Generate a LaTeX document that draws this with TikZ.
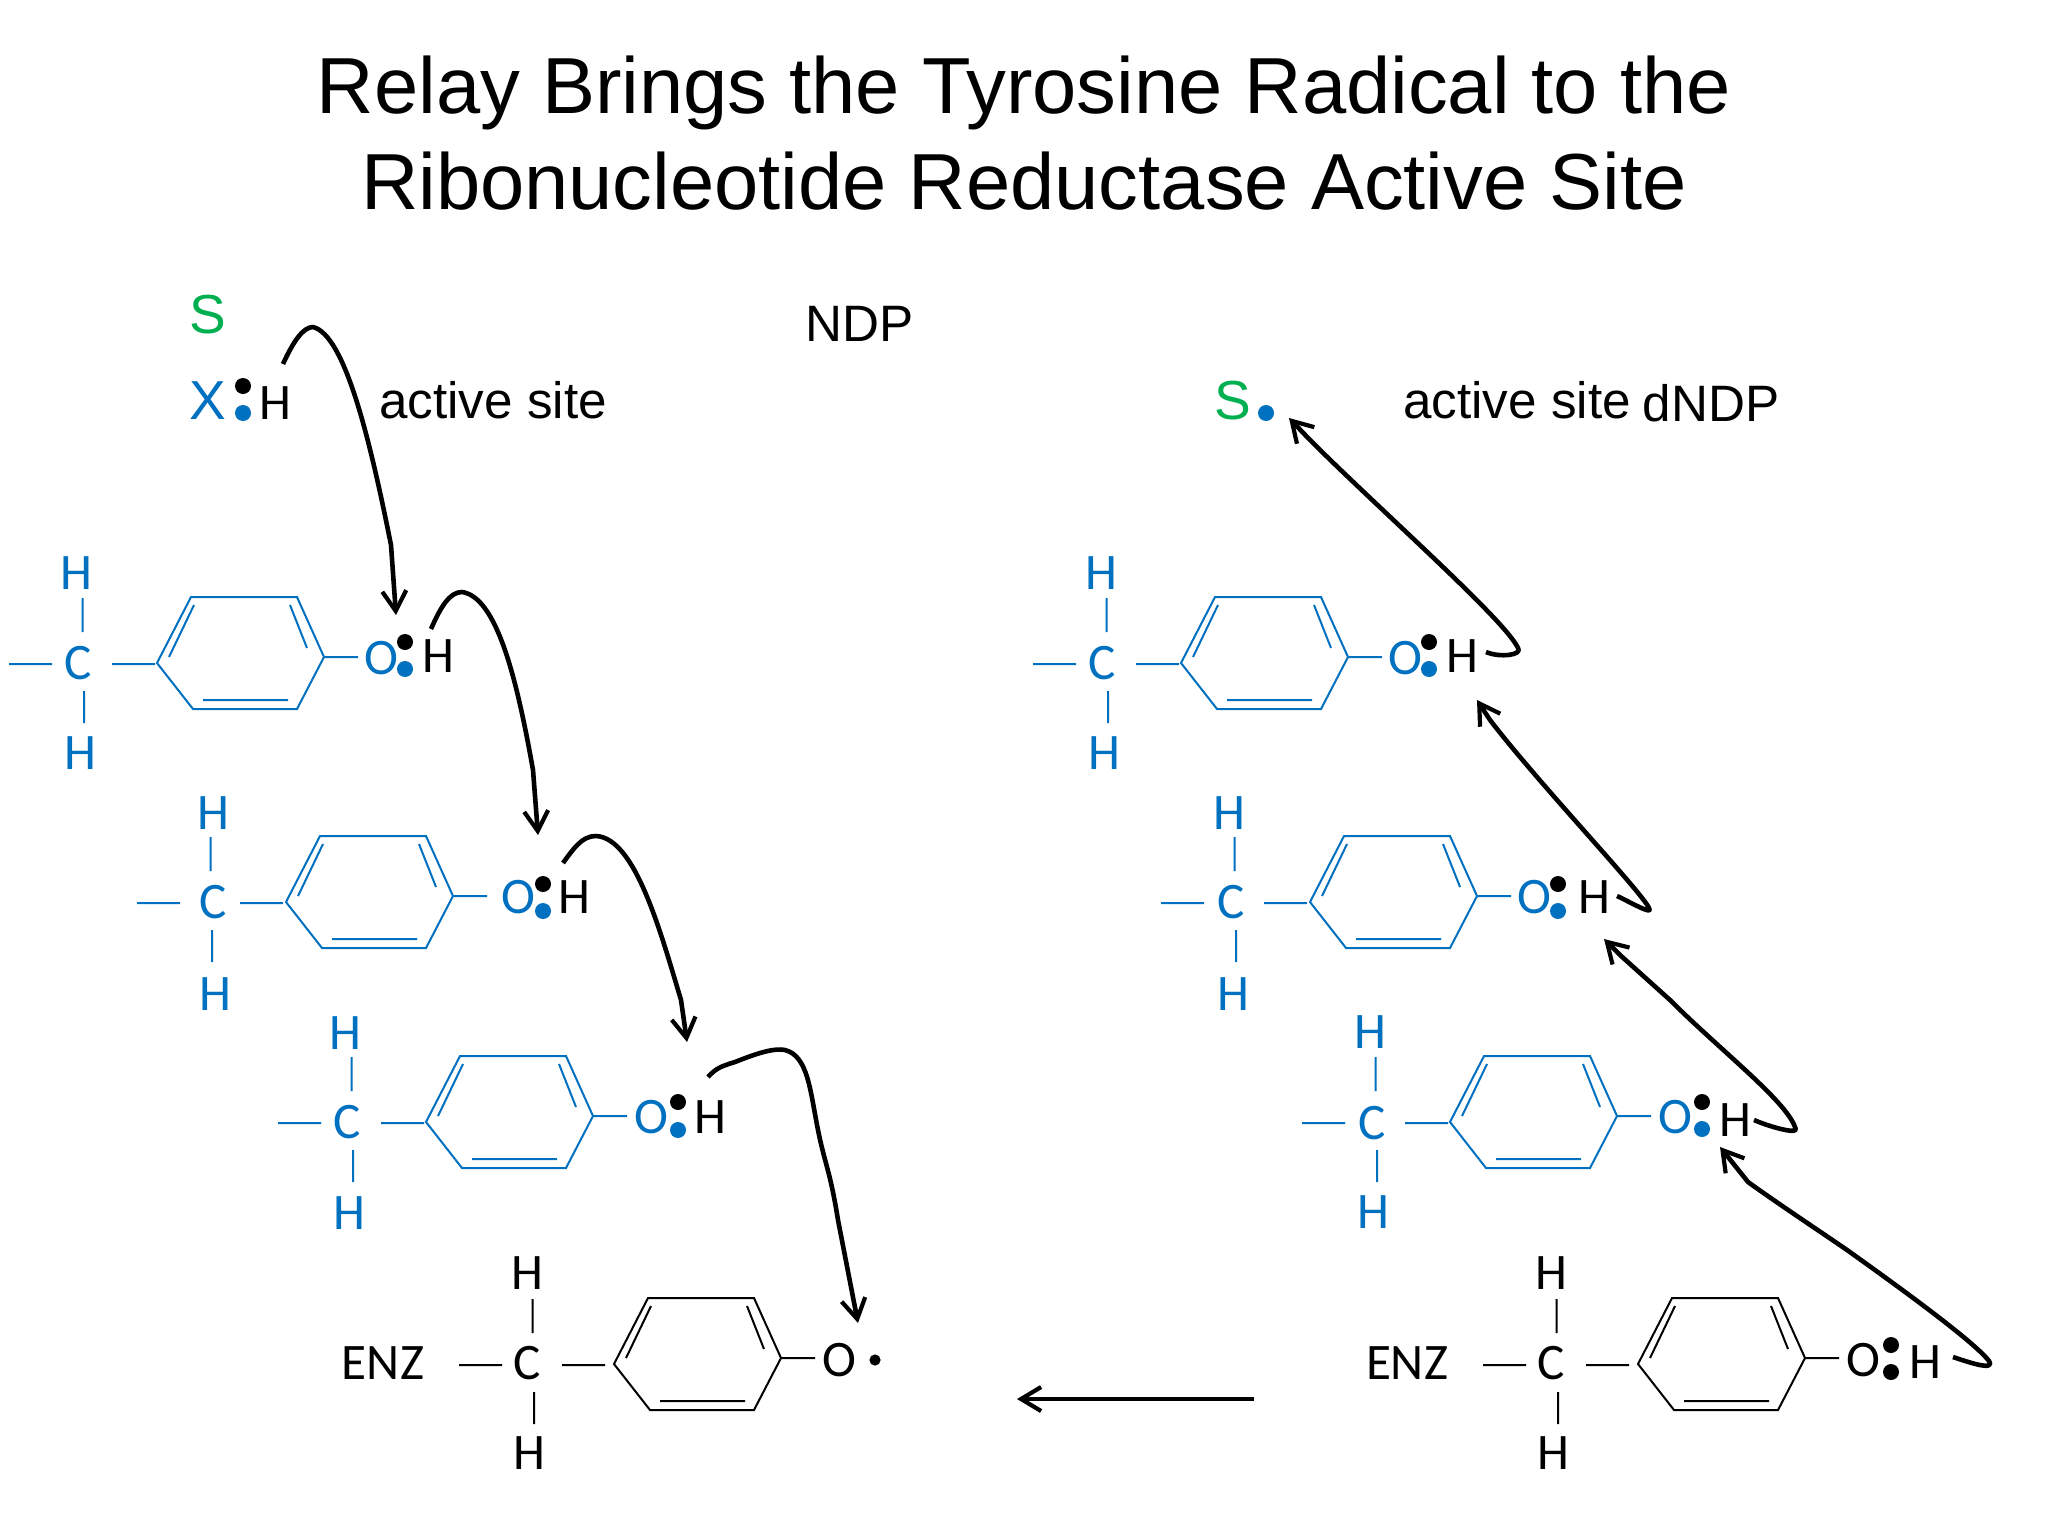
\documentclass[tikz,border=0pt]{standalone}
\usepackage{fontspec}
\setmainfont{Liberation Sans}
\newfontfamily\chemfont{Carlito}
\usetikzlibrary{arrows.meta}
\definecolor{chemblue}{HTML}{0070C0}
\definecolor{chemgreen}{HTML}{00B050}
\tikzset{
  ttl/.style={inner sep=0pt,anchor=base,font=\fontsize{39.75}{44}\selectfont},
  lab/.style={inner sep=0pt,anchor=base,font=\fontsize{25.6}{30}\selectfont},
  atm/.style={inner sep=0pt,font=\chemfont\fontsize{25.6}{30}\selectfont},
  bigatm/.style={inner sep=0pt,font=\fontsize{27.5}{30}\selectfont},
  bond/.style={line width=1pt},
  rel/.style={line width=2.3pt,-{Straight Barb[length=10pt,width=12pt,line width=2.1pt]},line join=round},
  edot/.style={radius=4pt},
}
% skeleton: name, group shift x y, ring shift x y, colour
\newcommand\skel[6]{%
  \begin{scope}[shift={(#2,#3)}]
    \coordinate (#1la) at (9,664);   \coordinate (#1lb) at (52,664);
    \coordinate (#1ra) at (112,664); \coordinate (#1rb) at (155,664);
    \coordinate (#1ua) at (82.5,598); \coordinate (#1ub) at (82.5,632);
    \coordinate (#1da) at (84,691);  \coordinate (#1db) at (84,723);
  \end{scope}
  \begin{scope}[shift={(#4,#5)}]
    \coordinate (#1a) at (158,663); \coordinate (#1b) at (192,597);
    \coordinate (#1c) at (298,597); \coordinate (#1d) at (325,657);
    \coordinate (#1e) at (298,709); \coordinate (#1f) at (194,709);
    \coordinate (#1g) at (170,657); \coordinate (#1h) at (195,605);
    \coordinate (#1i) at (291,605); \coordinate (#1j) at (308,648);
    \coordinate (#1k) at (204,700); \coordinate (#1l) at (289,700);
    \coordinate (#1o) at (359,657);
  \end{scope}
  \draw[bond,#6] (#1la)--(#1lb) (#1ra)--(#1rb) (#1ua)--(#1ub) (#1da)--(#1db)
    (#1a)--(#1b)--(#1c)--(#1d)--(#1e)--(#1f)--cycle (#1g)--(#1h) (#1i)--(#1j) (#1k)--(#1l) (#1d)--(#1o);
}
% group labels: name, colour, C, upper H, lower H, O
\newcommand\glab[6]{%
  \node[atm,text=#2] (#1C) at (#3) {C};
  \node[atm,text=#2] (#1Ht) at (#4) {H};
  \node[atm,text=#2] (#1Hb) at (#5) {H};
  \node[atm,text=#2] (#1O) at (#6) {O};
}
% hydrogen with electron pair: name, H position, top dot, bottom dot, bottom dot colour
\newcommand\hpair[5]{%
  \node[atm] (#1H) at (#2) {H};
  \fill[black] (#3) circle[edot];
  \fill[#5] (#4) circle[edot];
}
\begin{document}
\begin{tikzpicture}[x=0.5pt,y=-0.5pt]
\useasboundingbox (0,0) rectangle (2048,1536);
\fill[white] (0,0) rectangle (2048,1536);
% title
\node[ttl] (t1) at (1024,113) {Relay Brings the Tyrosine Radical to the};
\node[ttl] (t2) at (1024,209) {Ribonucleotide Reductase Active Site};
% top left
\node[bigatm,text=chemgreen] (S1) at (208,315) {S};
\node[bigatm,text=chemblue] (X1) at (208,401) {X};
\hpair{x}{275,403}{243,386}{243,413}{chemblue}
\node[lab] (as1) at (493,418) {active site};
\node[lab] (ndp) at (860,341) {NDP};
% top right
\node[bigatm,text=chemgreen] (S2) at (1233,401) {S};
\fill[chemblue] (1266,413) circle[edot];
\node[lab] (as2) at (1517,418) {active site};
\node[lab] (dndp) at (1711,421) {dNDP};
% left column
\skel{a}{0}{0}{-1}{0}{chemblue}
\glab{a}{chemblue}{78,663}{76,573}{80,753}{381,658}
\hpair{a}{438,656}{405,642}{405,669}{chemblue}
\skel{b}{128}{239}{128}{239}{chemblue}
\glab{b}{chemblue}{213,902}{213,813}{215,994}{518,897}
\hpair{b}{574,897}{543,884}{543,911}{chemblue}
\skel{c}{269}{459}{268}{459}{chemblue}
\glab{c}{chemblue}{347,1122}{345,1033}{349,1213}{651,1117}
\hpair{c}{710,1117}{678,1102}{678,1130}{chemblue}
\skel{d}{450}{701}{456}{701}{black}
\node[atm] (dC) at (527,1363) {C};
\node[atm] (dHt) at (527,1273) {H};
\node[atm] (dHb) at (529,1453) {H};
\node[atm] (dO) at (839,1360) {O};
\node[atm] (dE) at (383,1363) {ENZ};
\fill[black] (875,1360) circle[radius=2.8pt];
% right column
\skel{e}{1024}{0}{1023}{0}{chemblue}
\glab{e}{chemblue}{1102,663}{1101,573}{1104,753}{1405,658}
\hpair{e}{1462,656}{1429,642}{1429,669}{chemblue}
\skel{f}{1152}{239}{1152}{239}{chemblue}
\glab{f}{chemblue}{1231,902}{1229,813}{1233,994}{1534,897}
\hpair{f}{1594,897}{1558,884}{1558,911}{chemblue}
\skel{g}{1293}{459}{1292}{459}{chemblue}
\glab{g}{chemblue}{1372,1123}{1370,1032}{1373,1212}{1675,1117}
\hpair{g}{1735,1120}{1702,1102}{1702,1129}{chemblue}
\skel{h}{1474}{701}{1480}{701}{black}
\node[atm] (hC) at (1551,1363) {C};
\node[atm] (hHt) at (1551,1273) {H};
\node[atm] (hHb) at (1553,1453) {H};
\node[atm] (hO) at (1863,1360) {O};
\node[atm] (hE) at (1407,1363) {ENZ};
\hpair{h}{1925,1362}{1891,1345}{1891,1372}{black}
% arrow end points
\coordinate (A1s) at (283,364); \coordinate (A1e) at (396,615);
\coordinate (A2s) at (431,629); \coordinate (A2e) at (538,835);
\coordinate (A3s) at (563,863); \coordinate (A3e) at (687,1042);
\coordinate (A4s) at (708,1077); \coordinate (A4e) at (858,1323);
\coordinate (B1s) at (1486,652); \coordinate (B1e) at (1289,418);
\coordinate (B2s) at (1617,896); \coordinate (B2e) at (1477,700);
\coordinate (B3s) at (1754,1120); \coordinate (B3e) at (1604,939);
\coordinate (B4s) at (1953,1357); \coordinate (B4e) at (1720,1147);
\coordinate (Ms) at (1254,1399); \coordinate (Me) at (1017,1399);
% left arrows
\draw[rel] (A1s) .. controls (293,342) and (303,327) .. (313,327)
  .. controls (345,335) and (370,440) .. (391,545) -- (A1e);
\draw[rel] (A2s) .. controls (441,606) and (450,592) .. (462,592)
  .. controls (497,597) and (517,680) .. (533,770) -- (A2e);
\draw[rel] (A3s) .. controls (574,848) and (582,836) .. (596,836)
  .. controls (635,838) and (660,930) .. (681,1000) -- (A3e);
\draw[rel] (A4s) .. controls (716,1068) and (722,1066) .. (735,1062)
  .. controls (760,1052) and (775,1048) .. (785,1050)
  .. controls (808,1056) and (810,1090) .. (818,1130)
  .. controls (825,1165) and (830,1170) .. (838,1220) -- (A4e);
% right arrows
\draw[rel] (B1s) .. controls (1500,658) and (1523,655) .. (1518,648)
  .. controls (1505,620) and (1380,510) .. (1310,440) -- (B1e);
\draw[rel] (B2s) .. controls (1630,902) and (1654,916) .. (1649,908)
  .. controls (1640,890) and (1540,785) .. (1490,720) -- (B2e);
\draw[rel] (B3s) .. controls (1770,1127) and (1802,1136) .. (1795,1127)
  .. controls (1785,1100) and (1720,1050) .. (1670,1000) -- (1620,955) -- (B3e);
\draw[rel] (B4s) .. controls (1965,1361) and (1996,1372) .. (1989,1361)
  .. controls (1975,1343) and (1913,1297) .. (1847,1250)
  .. controls (1815,1228) and (1780,1205) .. (1748,1182) -- (B4e);
% reaction arrow
\draw[rel] (Ms) -- (Me);
\end{tikzpicture}
\end{document}
